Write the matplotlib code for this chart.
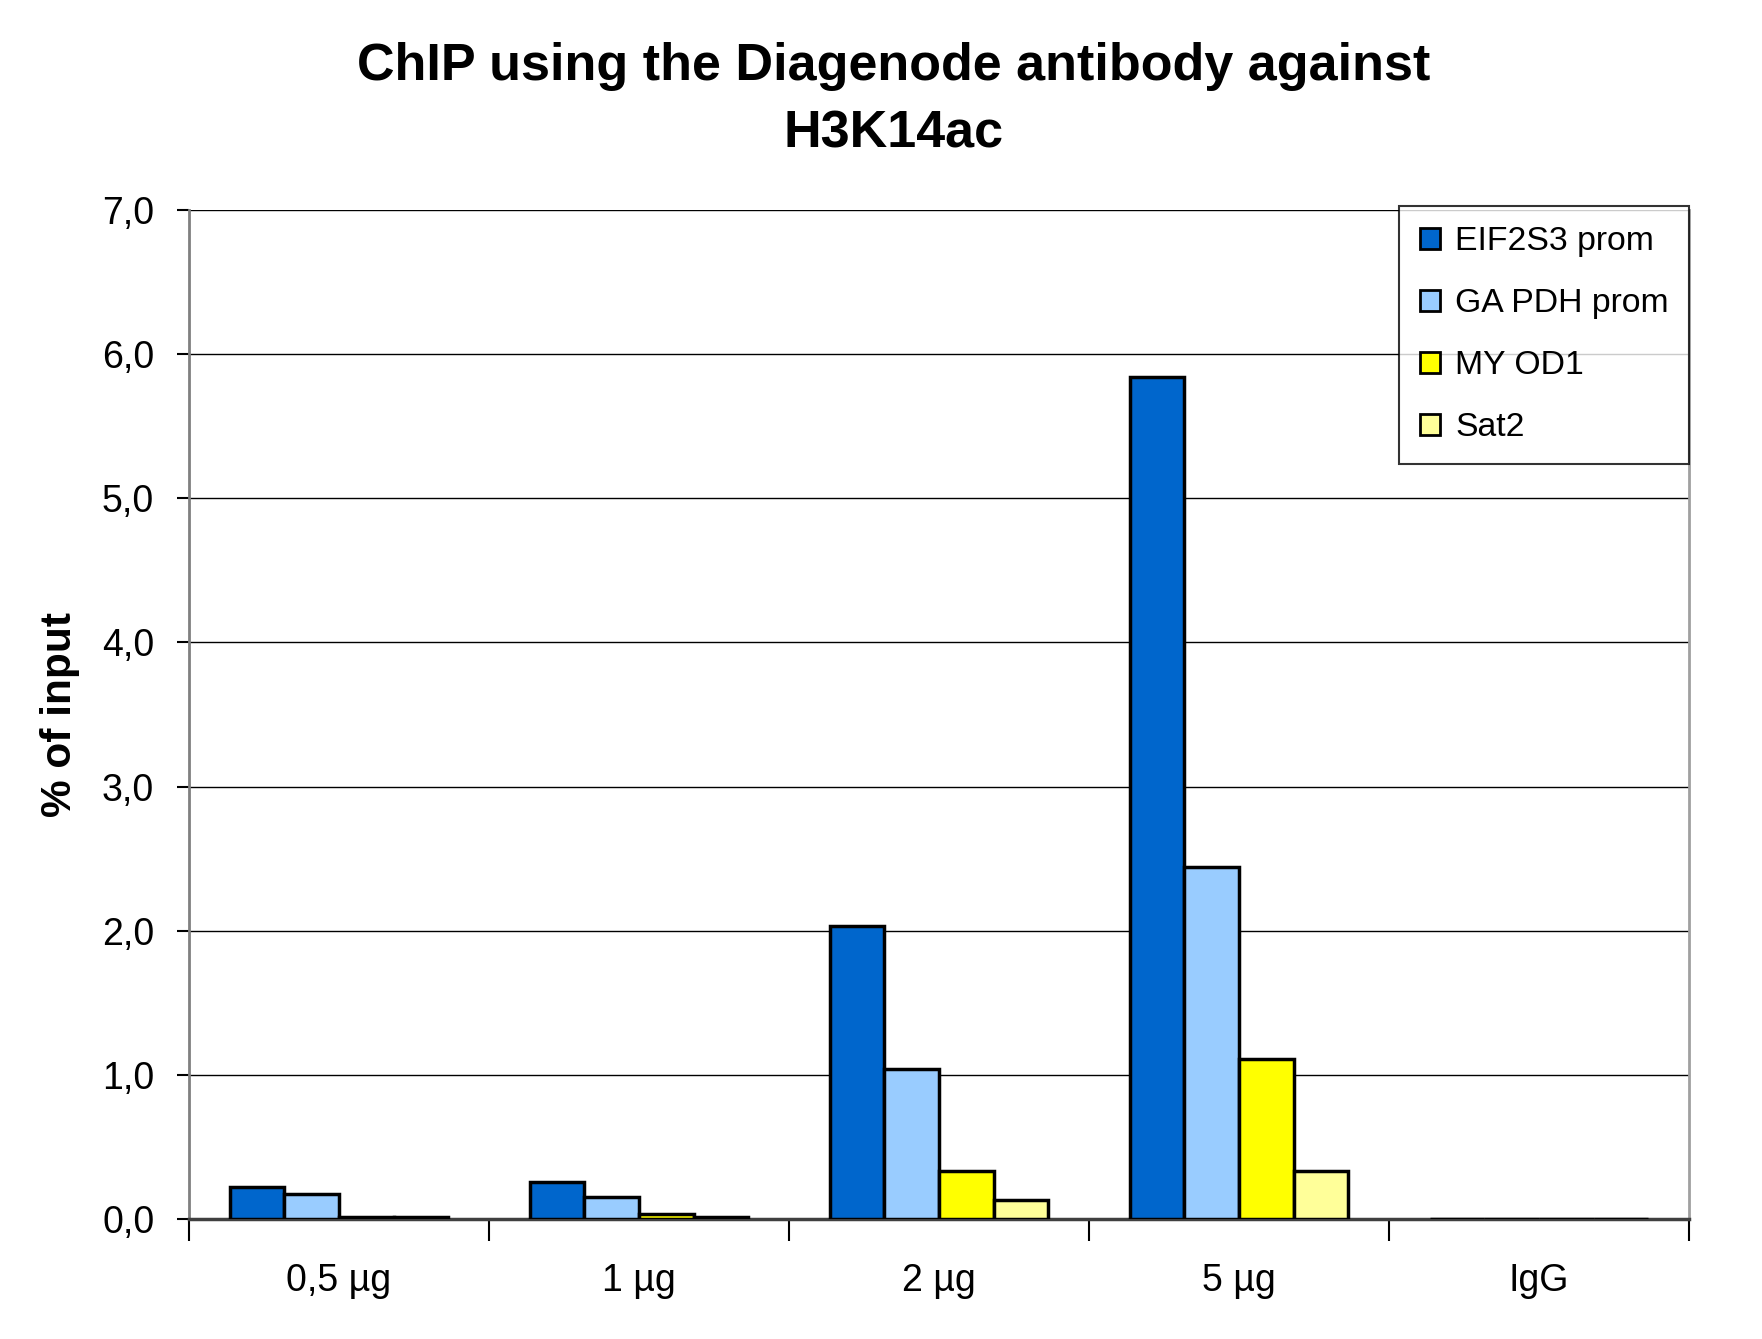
import numpy as np
import matplotlib.pyplot as plt
from matplotlib.ticker import FuncFormatter

plt.rcParams['font.family'] = ['Liberation Sans', 'DejaVu Sans']

categories = ['0,5 µg', '1 µg', '2 µg', '5 µg', 'IgG']
series = ['EIF2S3 prom', 'GAPDH prom', 'MYOD1', 'Sat2']
legend_labels = ['EIF2S3 prom', 'GA PDH prom', 'MY OD1', 'Sat2']
eif2s3 = [0.22, 0.26, 2.03, 5.84, 0.0]
gapdh = [0.17, 0.15, 1.04, 2.44, 0.0]
myod1 = [0.015, 0.035, 0.33, 1.11, 0.0]
sat2 = [0.015, 0.015, 0.13, 0.33, 0.0]
colors = ['#0066cc', '#99ccff', '#ffff00', '#ffff99']

fig = plt.figure(figsize=(17.62, 13.39), dpi=100)
ax = fig.add_axes([189 / 1762, 1 - 1219 / 1339, 1500 / 1762, 1009 / 1339])

x = np.arange(len(categories)) + 0.5
w = 0.182
for i, (vals, c, lab) in enumerate(zip([eif2s3, gapdh, myod1, sat2], colors, legend_labels)):
    ax.bar(x + (i - 1.5) * w, vals, w, color=c, edgecolor='black', linewidth=2.5,
           label=lab, zorder=3)

ax.set_xlim(0, len(categories))
ax.set_ylim(0, 7)
ax.set_yticks(np.arange(0, 7.5, 1))
ax.yaxis.set_major_formatter(FuncFormatter(lambda v, p: f'{v:.1f}'.replace('.', ',')))
ax.grid(axis='y', color='black', linewidth=1, zorder=0)

ax.set_xticks(np.arange(0, len(categories) + 1))
ax.set_xticklabels([])
ax.set_xticks(x, minor=True)
ax.set_xticklabels(categories, minor=True)
ax.tick_params(axis='x', which='major', length=16, width=1.5, color='black')
ax.tick_params(axis='x', which='minor', length=0, pad=32, labelsize=27)
ax.tick_params(axis='y', length=9, width=1.5, labelsize=27, pad=16)

ax.spines['top'].set_visible(False)
ax.spines['left'].set_color('#808080')
ax.spines['left'].set_linewidth(2)
ax.spines['right'].set_color('#a0a0a0')
ax.spines['right'].set_linewidth(2)
ax.spines['bottom'].set_color('#404040')
ax.spines['bottom'].set_linewidth(2.5)

ax.set_ylabel('% of input', fontsize=30.5, fontweight='bold')
ax.yaxis.set_label_coords(-(189 - 80) / 1500, 0.5)
fig.text(0.507, 0.969, 'ChIP using the Diagenode antibody against\nH3K14ac',
         ha='center', va='top', fontsize=37.5, fontweight='bold', linespacing=1.5)

leg = ax.legend(loc='upper right', bbox_to_anchor=(1.0, 1.004), fontsize=24.3,
                frameon=True, fancybox=False, shadow=False, edgecolor='black',
                handlelength=0.6, handleheight=0.6, handletextpad=0.45,
                labelspacing=0.92, borderpad=0.6, borderaxespad=0)
leg.get_frame().set_linewidth(1.5)
for h in leg.legend_handles:
    h.set_linewidth(2)

fig.savefig('out.png', dpi=100)
